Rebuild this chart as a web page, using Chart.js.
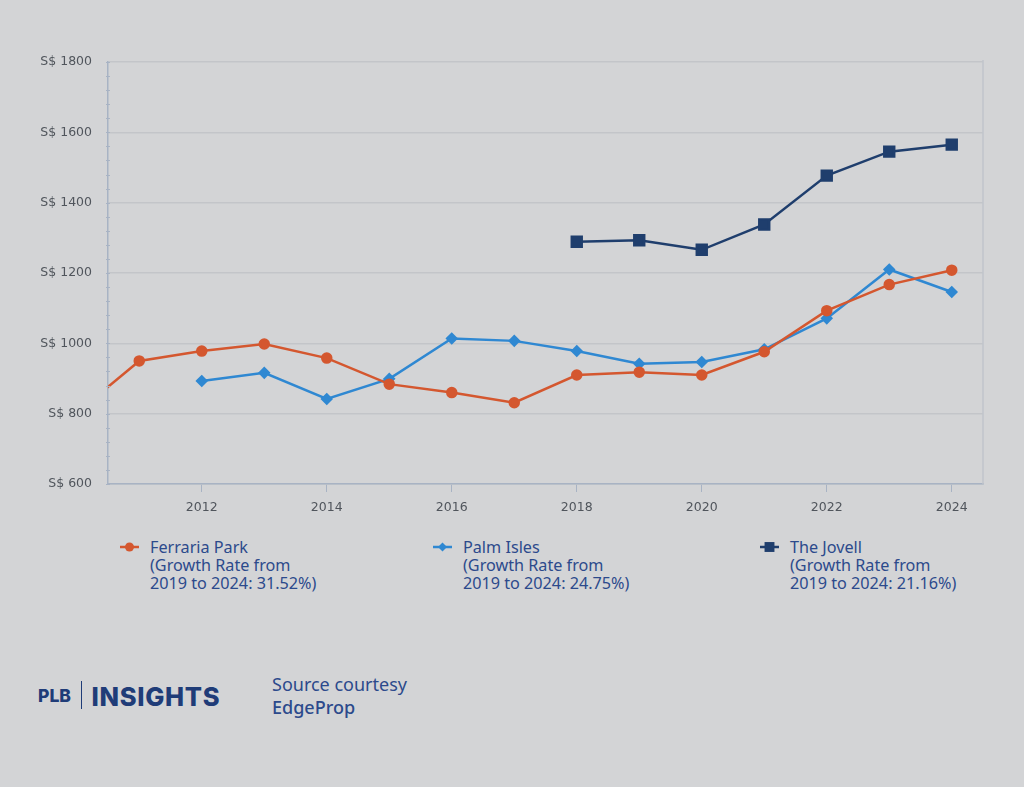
<!DOCTYPE html>
<html>
<head>
<meta charset="utf-8">
<script src="https://cdn.jsdelivr.net/npm/chart.js@4"></script>
<style>
  html, body { margin: 0; padding: 0; }
  body { width: 1024px; height: 787px; background: #d3d4d6; position: relative; overflow: hidden; font-family: "Noto Sans", sans-serif; }
  #wrap { position: absolute; left: 0; top: 0; width: 1024px; height: 523px; }
  .leg { position: absolute; top: 538px; color: #2c4a8c; font-size: 16.2px; line-height: 18px; }
  .leg canvas { position: absolute; left: 0; top: 1px; }
  .leg div { margin-left: 30px; }
  #logo { position: absolute; left: 38px; top: 681px; color: #1f3c78; font-family: "Inter", sans-serif; font-weight: 800; white-space: nowrap; }
  #src { position: absolute; left: 272px; top: 673px; color: #2c4a8c; font-size: 18px; line-height: 23px; }
</style>
</head>
<body>
<div id="wrap"><canvas id="chart"></canvas></div>
<div id="legend"></div>
<div id="logo"><span style="font-size:17.5px;vertical-align:4px">PLB</span><span style="display:inline-block;width:1.5px;height:28px;background:#1f3c78;margin:0 9px 0 10px;vertical-align:-3px"></span><span style="font-size:25.5px;letter-spacing:0.7px">INSIGHTS</span></div>
<div id="src">Source courtesy<br><span style="font-weight:500">EdgeProp</span></div>
<script>
// years on the x axis
const ferrariaYears = [2010, 2011, 2012, 2013, 2014, 2015, 2016, 2017, 2018, 2019, 2020, 2021, 2022, 2023, 2024];
const ferrariaPsf = [802, 950, 978, 998, 958, 884, 860, 831, 910, 918, 910, 976, 1093, 1167, 1208];

const palmYears = [2012, 2013, 2014, 2015, 2016, 2017, 2018, 2019, 2020, 2021, 2022, 2023, 2024];
const palmPsf = [893, 916, 842, 899, 1014, 1007, 978, 942, 947, 983, 1071, 1210, 1146];

const jovellYears = [2018, 2019, 2020, 2021, 2022, 2023, 2024];
const jovellPsf = [1289, 1293, 1266, 1338, 1477, 1545, 1565];

const xTicks = [2012, 2014, 2016, 2018, 2020, 2022, 2024];
const yTicks = [600, 800, 1000, 1200, 1400, 1600, 1800];

const seriesNames = [
  ["Ferraria Park", "(Growth Rate from", "2019 to 2024: 31.52%)"],
  ["Palm Isles", "(Growth Rate from", "2019 to 2024: 24.75%)"],
  ["The Jovell", "(Growth Rate from", "2019 to 2024: 21.16%)"]
];

const colors = ["#d4572f", "#2f88d2", "#1f3e6d"];
const pointStyles = ["circle", "rectRot", "rect"];
const pointSizes = [4.5, 4.5, 7];

function toXY(xs, ys) {
  return xs.map((x, i) => ({ x: x, y: ys[i] }));
}

const axisColor = "#a8b3c4";
const gridColor = "#c3c5c9";

// right border + small minor ticks on the y axis
const framePlugin = {
  id: "frame",
  afterDraw(chart) {
    const ctx = chart.ctx;
    const a = chart.chartArea;
    const y = chart.scales.y;
    ctx.save();
    ctx.strokeStyle = "#c0c4cb";
    ctx.lineWidth = 1.5;
    ctx.beginPath();
    ctx.moveTo(a.right, a.top - 2);
    ctx.lineTo(a.right, a.bottom);
    ctx.stroke();
    ctx.strokeStyle = axisColor;
    ctx.lineWidth = 1;
    for (let v = 600; v <= 1800; v += 40) {
      const py = Math.round(y.getPixelForValue(v)) + 0.5;
      ctx.beginPath();
      ctx.moveTo(a.left - 2, py);
      ctx.lineTo(a.left + 2, py);
      ctx.stroke();
    }
    ctx.restore();
  }
};

const datasets = [
  toXY(ferrariaYears, ferrariaPsf),
  toXY(palmYears, palmPsf),
  toXY(jovellYears, jovellPsf)
].map((d, i) => ({
  label: seriesNames[i].join(" "),
  data: d,
  borderColor: colors[i],
  backgroundColor: colors[i],
  borderWidth: 2.5,
  pointStyle: pointStyles[i],
  pointRadius: pointSizes[i],
  pointHoverRadius: pointSizes[i],
  tension: 0
}));

new Chart(document.getElementById("chart"), {
  type: "line",
  data: { datasets: datasets },
  plugins: [framePlugin],
  options: {
    responsive: true,
    maintainAspectRatio: false,
    animation: false,
    layout: { padding: { left: 0, right: 41, top: 62, bottom: 0 } },
    plugins: { legend: { display: false }, tooltip: { enabled: false } },
    scales: {
      x: {
        type: "linear",
        min: 2010.5,
        max: 2024.5,
        afterBuildTicks: s => { s.ticks = xTicks.map(v => ({ value: v })); },
        afterFit: s => { s.height = 39; },
        grid: { drawOnChartArea: false, drawTicks: true, tickLength: 8, color: axisColor },
        border: { color: axisColor, width: 1.5 },
        ticks: {
          color: "#50555c",
          font: { family: "DejaVu Sans", size: 12.5 },
          padding: 8,
          maxRotation: 0,
          callback: v => String(v)
        }
      },
      y: {
        min: 600,
        max: 1800,
        afterBuildTicks: s => { s.ticks = yTicks.map(v => ({ value: v })); },
        grid: { color: gridColor, lineWidth: 1.5, drawTicks: false },
        border: { color: axisColor, width: 1.5 },
        afterFit: s => { s.width = 108; },
        ticks: {
          color: "#50555c",
          font: { family: "DejaVu Sans", size: 12.5 },
          padding: 16,
          callback: v => "S$ " + v
        }
      }
    }
  }
});

// legend built from the same series arrays
const legendLefts = [120, 433, 760];
const legend = document.getElementById("legend");
seriesNames.forEach((lines, i) => {
  const box = document.createElement("div");
  box.className = "leg";
  box.style.left = legendLefts[i] + "px";
  const c = document.createElement("canvas");
  c.width = 20; c.height = 16;
  const cx = c.getContext("2d");
  cx.strokeStyle = colors[i];
  cx.lineWidth = 2.5;
  cx.beginPath(); cx.moveTo(0, 8); cx.lineTo(19, 8); cx.stroke();
  cx.fillStyle = colors[i];
  Chart.helpers.drawPoint(cx, { pointStyle: pointStyles[i], radius: pointSizes[i], borderWidth: 0 }, 9.5, 8);
  box.appendChild(c);
  const t = document.createElement("div");
  t.innerHTML = lines.join("<br>");
  box.appendChild(t);
  legend.appendChild(box);
});
</script>
</body>
</html>
